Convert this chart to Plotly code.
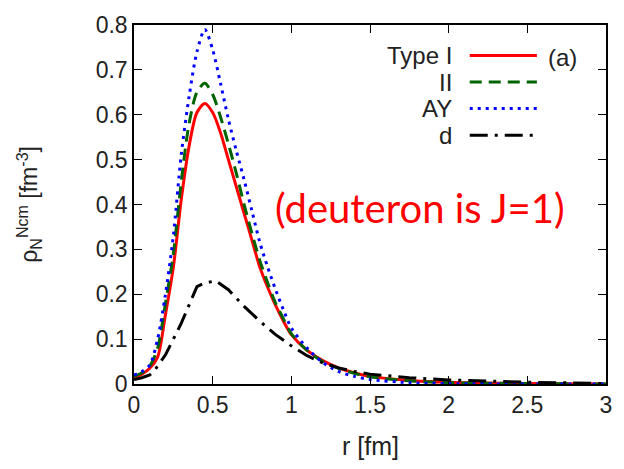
import plotly.graph_objects as go

# ---- data ----
r_grid = [0, 0.05, 0.1, 0.15, 0.2, 0.25, 0.3, 0.35, 0.4, 0.45, 0.5, 0.55, 0.6, 0.65,
          0.7, 0.75, 0.8, 0.85, 0.9, 0.95, 1.0, 1.1, 1.2, 1.3, 1.4, 1.5, 1.75, 2.0,
          2.5, 3.0]
type1 = [0.015, 0.022, 0.035, 0.06, 0.155, 0.26, 0.41, 0.53, 0.605, 0.625, 0.605,
         0.56, 0.50, 0.44, 0.38, 0.32, 0.26, 0.215, 0.175, 0.14, 0.11, 0.075, 0.052,
         0.036, 0.025, 0.017, 0.008, 0.004, 0.001, 0.0]
type2 = [0.017, 0.025, 0.04, 0.08, 0.18, 0.29, 0.45, 0.58, 0.65, 0.67, 0.645,
         0.595, 0.535, 0.47, 0.40, 0.335, 0.275, 0.225, 0.18, 0.145, 0.112, 0.075,
         0.05, 0.035, 0.024, 0.016, 0.007, 0.003, 0.001, 0.0]
ay = [0.02, 0.028, 0.042, 0.1, 0.2, 0.33, 0.51, 0.64, 0.74, 0.79, 0.745, 0.67,
      0.59, 0.52, 0.455, 0.385, 0.315, 0.26, 0.21, 0.165, 0.125, 0.08, 0.048,
      0.028, 0.017, 0.01, 0.003, 0.001, 0.0, 0.0]
r_d = [0, 0.05, 0.1, 0.13, 0.2, 0.3, 0.4, 0.45, 0.52, 0.6, 0.7, 0.8, 0.9, 1.0,
       1.1, 1.2, 1.3, 1.4, 1.5, 1.75, 2.0, 2.5, 3.0]
deut = [0.01, 0.014, 0.02, 0.03, 0.065, 0.135, 0.217, 0.225, 0.23, 0.21, 0.173,
        0.14, 0.11, 0.085, 0.063, 0.047, 0.036, 0.028, 0.022, 0.014, 0.009, 0.004,
        0.001]

legend_names = ["Type I", "II", "AY", "d"]
x_ticks = [0, 0.5, 1, 1.5, 2, 2.5, 3]
x_tick_text = ["0", "0.5", "1", "1.5", "2", "2.5", "3"]
y_ticks = [0, 0.1, 0.2, 0.3, 0.4, 0.5, 0.6, 0.7, 0.8]
y_tick_text = ["0", "0.1", "0.2", "0.3", "0.4", "0.5", "0.6", "0.7", "0.8"]

styles = [
    dict(color="#ff0000", dash="solid"),
    dict(color="#006400", dash="12px,7px"),
    dict(color="#0000ff", dash="3px,5px"),
    dict(color="#000000", dash="18px,7px,3px,7px"),
]

FONT = "Liberation Sans, Arial, sans-serif"
TXT = "#222222"

fig = go.Figure()
series = [(r_grid, type1, "spline"), (r_grid, type2, "spline"),
          (r_grid, ay, "spline"), (r_d, deut, "linear")]
for (xs, ys, shape), name, st in zip(series, legend_names, styles):
    fig.add_trace(go.Scatter(
        x=xs, y=ys, mode="lines", name=name, showlegend=False,
        line=dict(color=st["color"], dash=st["dash"], width=3, shape=shape,
                  smoothing=0.8 if shape == "spline" else None),
    ))

# manual legend (text on the left, sample on the right)
PW, PH = 478.0, 365.0
def px(xp):
    return (xp - 134) / PW
def py(yp):
    return (384 - yp) / PH

leg_y = [50, 77, 104, 131]
for name, st, yy in zip(legend_names, styles, leg_y):
    fig.add_annotation(text=name, xref="paper", yref="paper", x=px(458), y=py(yy),
                       xanchor="right", yanchor="middle", showarrow=False,
                       font=dict(size=24, color=TXT))
    fig.add_shape(type="line", xref="paper", yref="paper",
                  x0=px(474), x1=px(542), y0=py(yy), y1=py(yy),
                  line=dict(color=st["color"], dash=st["dash"], width=3))

fig.add_annotation(text="(a)", xref="paper", yref="paper", x=px(568), y=py(52),
                   xanchor="center", yanchor="middle", showarrow=False,
                   font=dict(size=24, color=TXT))

fig.add_annotation(text="(deuteron is J=1)", xref="paper", yref="paper",
                   x=px(424), y=py(205), xanchor="center", yanchor="middle",
                   showarrow=False,
                   font=dict(size=40, color="#ff0000", family="Lato"))

fig.add_annotation(text="r [fm]", xref="paper", yref="paper", x=0.5, y=py(447),
                   xanchor="center", yanchor="middle", showarrow=False,
                   font=dict(size=25, color=TXT))
fig.add_annotation(text="ρ<sub>N</sub><sup>Ncm</sup> [fm<sup>-3</sup>]",
                   xref="paper", yref="paper", x=px(27), y=0.5, textangle=-90,
                   xanchor="center", yanchor="middle", showarrow=False,
                   font=dict(size=23, color=TXT))

axis_common = dict(showline=True, linecolor="#000000", linewidth=1.5, mirror="ticks",
                   ticks="inside", ticklen=8, tickcolor="#000000", tickwidth=1.2,
                   showgrid=False, zeroline=False,
                   tickfont=dict(size=23, color=TXT, family=FONT))
fig.update_xaxes(range=[0, 3], tickvals=x_ticks, ticktext=x_tick_text, **axis_common)
fig.update_yaxes(range=[0, 0.8], tickvals=y_ticks, ticktext=y_tick_text, **axis_common)

fig.update_layout(
    width=624, height=469,
    margin=dict(l=134, r=12, t=19, b=85),
    paper_bgcolor="white", plot_bgcolor="white",
    font=dict(family=FONT),
)
fig.write_html("out.html")
